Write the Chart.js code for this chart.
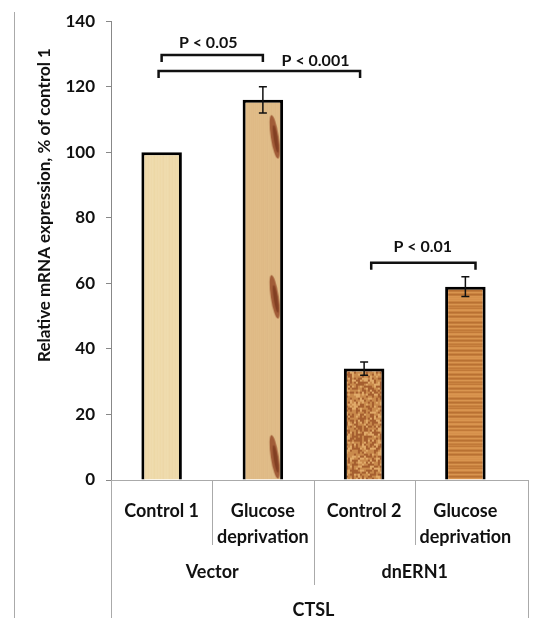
<!DOCTYPE html>
<html>
<head>
<meta charset="utf-8">
<script src="https://cdn.jsdelivr.net/npm/chart.js@4.4.1/dist/chart.umd.min.js"></script>
<style>
  html, body { margin: 0; padding: 0; background: #fff; }
  #wrap { width: 537px; height: 618px; position: relative; }
</style>
</head>
<body>
<div id="wrap"><canvas id="myChart" width="537" height="618"></canvas></div>
<script>
// chart data
var categories = ["Control 1", ["Glucose", "deprivation"], "Control 2", ["Glucose", "deprivation"]];
var groups = ["Vector", "dnERN1"];
var outerLabel = "CTSL";
var values = [100, 116, 34, 59];
var errors = [0, 4, 2, 3];
var yTicks = [0, 20, 40, 60, 80, 100, 120, 140];
var yTitle = "Relative mRNA expression, % of control 1";
// significance brackets: from/to category index, bracket level, label position
var sigFrom = [0, -0.03, 2.07];
var sigTo = [1, 1.96, 3.1];
var sigLevel = [129.7, 124.8, 66.3];
var sigText = ["P < 0.05", "P < 0.001", "P < 0.01"];
var sigTextX = [0.46, 1.52, 2.58];
var sigTextY = [133.5, 128, 71];

var FONT = "Lato, 'Liberation Sans', sans-serif";

function makeTexture(kind) {
  var c = document.createElement("canvas");
  c.width = 40; c.height = 160;
  var g = c.getContext("2d");
  if (kind == 0) {
    g.fillStyle = "#f1deb1"; g.fillRect(0, 0, 40, 160);
    for (var i = 0; i < 40; i += 3) {
      g.fillStyle = "rgba(225,195,135," + (0.12 + 0.12 * Math.abs(Math.sin(i * 1.7))) + ")";
      g.fillRect(i, 0, 2, 160);
    }
  } else if (kind == 1) {
    g.fillStyle = "#e2be8a"; g.fillRect(0, 0, 40, 160);
    for (var i = 0; i < 40; i += 2) {
      g.fillStyle = "rgba(205,160,105," + (0.08 + 0.12 * Math.abs(Math.sin(i * 2.3))) + ")";
      g.fillRect(i, 0, 1, 160);
    }
    // dark knot streak near the right edge
    g.fillStyle = "rgba(140,60,30,0.75)";
    g.beginPath();
    g.ellipse(32, 24, 4, 22, -0.15, 0, Math.PI * 2);
    g.fill();
    g.fillStyle = "rgba(105,40,18,0.55)";
    g.beginPath();
    g.ellipse(33, 26, 2, 14, -0.15, 0, Math.PI * 2);
    g.fill();
  } else if (kind == 2) {
    g.fillStyle = "#c98a4c"; g.fillRect(0, 0, 40, 160);
    for (var y = 0; y < 160; y += 2) {
      for (var x = 0; x < 40; x += 2) {
        var s = Math.sin(x * 12.9898 + y * 78.233) * 43758.5453;
        s = s - Math.floor(s);
        if (s > 0.62) { g.fillStyle = "rgba(150,75,35,0.7)"; g.fillRect(x, y, 2, 2); }
        else if (s < 0.25) { g.fillStyle = "rgba(235,185,120,0.7)"; g.fillRect(x, y, 2, 2); }
      }
    }
  } else {
    g.fillStyle = "#d38c47"; g.fillRect(0, 0, 40, 160);
    for (var y = 0; y < 160; y += 2) {
      var t = Math.abs(Math.sin(y * 0.91));
      g.fillStyle = t > 0.7 ? "rgba(160,85,30,0.5)" : "rgba(240,180,110,0.35)";
      g.fillRect(0, y, 40, 1 + (t > 0.9 ? 1 : 0));
    }
  }
  return g.createPattern(c, "repeat");
}

var fills = [makeTexture(0), makeTexture(1), makeTexture(2), makeTexture(3)];

var errorBars = {
  id: "errorBars",
  beforeDatasetsDraw: function(chart) {
    // anchor each texture to its own bar
    var bars = chart.getDatasetMeta(0).data;
    for (var i = 0; i < bars.length; i++) {
      var b = bars[i];
      fills[i].setTransform(new DOMMatrix().translate(b.x - b.width / 2, b.y + 13));
    }
  },
  afterDatasetsDraw: function(chart) {
    var ctx = chart.ctx, x = chart.scales.x, y = chart.scales.y;
    ctx.save();
    ctx.strokeStyle = "#111"; ctx.lineWidth = 1.5;
    for (var i = 0; i < values.length; i++) {
      if (!errors[i]) continue;
      var px = x.getPixelForValue(i);
      var top = y.getPixelForValue(values[i] + errors[i]);
      var bot = y.getPixelForValue(values[i] - errors[i]);
      ctx.beginPath();
      ctx.moveTo(px, top); ctx.lineTo(px, bot);
      ctx.moveTo(px - 4, top); ctx.lineTo(px + 4, top);
      ctx.moveTo(px - 4, bot); ctx.lineTo(px + 4, bot);
      ctx.stroke();
    }
    // brackets
    ctx.strokeStyle = "#111"; ctx.lineWidth = 2.5;
    ctx.fillStyle = "#111";
    ctx.font = "bold 16px " + FONT;
    ctx.textAlign = "center"; ctx.textBaseline = "middle";
    for (var k = 0; k < sigText.length; k++) {
      var x1 = x.getPixelForValue(sigFrom[k]);
      var x2 = x.getPixelForValue(sigTo[k]);
      var yy = y.getPixelForValue(sigLevel[k]);
      ctx.beginPath();
      ctx.moveTo(x1, yy + 7); ctx.lineTo(x1, yy); ctx.lineTo(x2, yy); ctx.lineTo(x2, yy + 7);
      ctx.stroke();
      ctx.fillText(sigText[k], x.getPixelForValue(sigTextX[k]), y.getPixelForValue(sigTextY[k]));
    }
    ctx.restore();
  },
  afterDraw: function(chart) {
    var ctx = chart.ctx, x = chart.scales.x, area = chart.chartArea;
    var H = chart.height;
    var left = area.left, right = area.right + 12;
    ctx.save();
    ctx.strokeStyle = "#aaa"; ctx.lineWidth = 1;
    ctx.beginPath();
    // outer frame lines
    ctx.moveTo(14.5, 12); ctx.lineTo(14.5, H);
    ctx.moveTo(right + 0.5, area.bottom); ctx.lineTo(right + 0.5, H);
    ctx.moveTo(area.right, area.bottom + 0.5); ctx.lineTo(right, area.bottom + 0.5);
    ctx.moveTo(left + 0.5, area.bottom); ctx.lineTo(left + 0.5, H);
    // separators between categories and groups
    for (var i = 1; i < categories.length; i++) {
      var sx = Math.round(x.getPixelForValue(i - 0.5)) + 0.5;
      var end = (i == 2) ? area.bottom + 105 : area.bottom + 65;
      ctx.moveTo(sx, area.bottom); ctx.lineTo(sx, end);
    }
    ctx.stroke();
    ctx.fillStyle = "#111";
    ctx.font = "bold 18px " + FONT;
    ctx.textAlign = "center"; ctx.textBaseline = "middle";
    for (var g = 0; g < groups.length; g++) {
      ctx.fillText(groups[g], x.getPixelForValue(g * 2 + 0.5), area.bottom + 92);
    }
    ctx.fillText(outerLabel, x.getPixelForValue(1.5), area.bottom + 130);
    // y axis title
    ctx.translate(45, 205);
    ctx.rotate(-Math.PI / 2);
    ctx.font = "bold 17px " + FONT;
    ctx.fillText(yTitle, 0, 0);
    ctx.restore();
  }
};

var ctx = document.getElementById("myChart").getContext("2d");

var chart = new Chart(ctx, {
  type: "bar",
  data: {
    labels: categories,
    datasets: [{
      data: values,
      backgroundColor: fills,
      borderColor: "#000",
      borderWidth: 3,
      borderSkipped: "bottom",
      barPercentage: 0.4,
      categoryPercentage: 1
    }]
  },
  options: {
    responsive: false,
    animation: false,
    layout: { padding: { top: 14, right: 21, left: 0, bottom: 0 } },
    plugins: { legend: { display: false }, tooltip: { enabled: false } },
    scales: {
      x: {
        grid: { display: false },
        border: { display: true, color: "#aaa", width: 1 },
        ticks: {
          color: "#111",
          font: { family: FONT, size: 18, weight: "bold", lineHeight: 1.4 },
          padding: 11,
          maxRotation: 0,
          autoSkip: false
        },
        afterFit: function(s) { s.height = 138; }
      },
      y: {
        min: 0, max: 140,
        afterBuildTicks: function(s) { s.ticks = yTicks.map(function(v) { return { value: v }; }); },
        grid: { display: true, drawOnChartArea: false, drawTicks: true, tickLength: 5, color: "#888" },
        border: { display: true, color: "#888", width: 1 },
        ticks: {
          color: "#111",
          font: { family: FONT, size: 17, weight: "bold" },
          padding: 11
        },
        afterFit: function(s) { s.width = 111; }
      }
    }
  },
  plugins: [errorBars]
});
</script>
</body>
</html>
